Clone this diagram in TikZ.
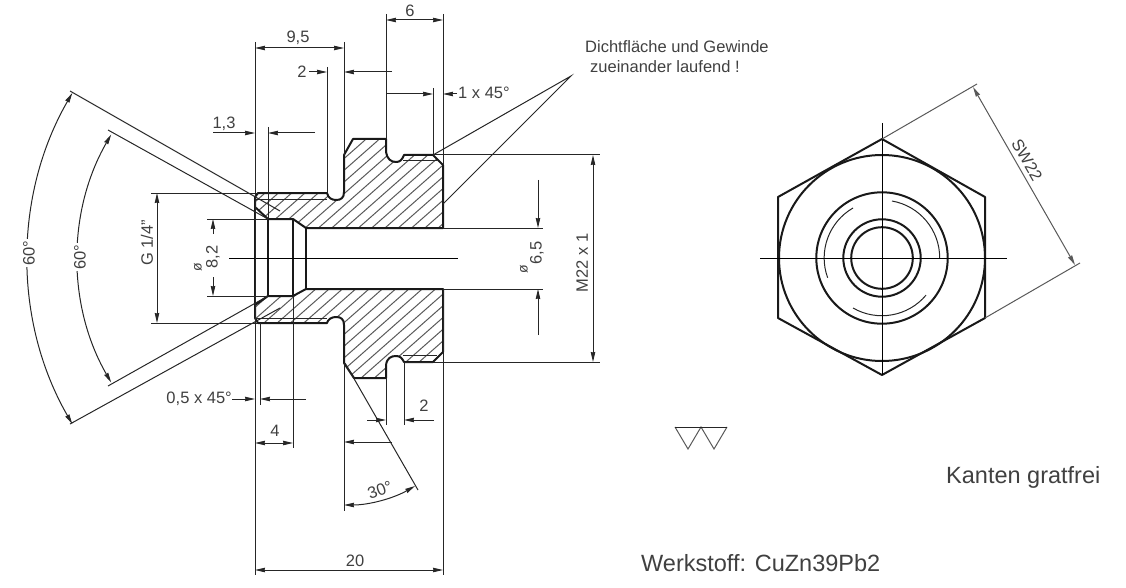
\documentclass[tikz,border=0pt]{standalone}
\usepackage{fontspec}
\setmainfont{Liberation Sans}
\usetikzlibrary{arrows.meta}
\definecolor{inkgray}{gray}{0.25}
\tikzstyle{outline} = [line width=2pt, line join=round, black!90]
\tikzstyle{hatch} = [line width=1pt, black!65]
\tikzstyle{ext} = [line width=1pt, black!85]
\tikzstyle{center} = [line width=1pt, black]
\tikzstyle{arrow} = [line width=1pt, black!85, ->, >={Stealth[length=10pt,width=4.5pt,inset=0.5pt]}]
\tikzstyle{both} = [arrow, <->]
\tikzstyle{label} = [inner sep=0pt, text=inkgray, font=\fontsize{16.5}{20}\selectfont]
\tikzstyle{dia} = [inner sep=0pt, text=inkgray, font=\fontsize{14}{16}\selectfont]
\tikzstyle{big} = [inner sep=0pt, text=inkgray, font=\fontsize{23.5}{28}\selectfont]
\newcommand{\upperpart}{(255,197) -- (258,193) -- (327,193) .. controls (328,198) and (332,200) .. (336,200) .. controls (341,200) and (344,198) .. (344,192) -- (344,155) -- (353,139) -- (386,139) -- (386,152) .. controls (387,159) and (391,162) .. (396,162) .. controls (400,162) and (402,160) .. (404,155) -- (433,155) -- (443,165) -- (443,228) -- (306,228) -- (293,219) -- (268,219) -- (255,207) -- cycle }
\newcommand{\lowerpart}{(255,318) -- (258,323) -- (327,323) .. controls (328,319) and (332,317) .. (336,317) .. controls (341,317) and (344,319) .. (344,325) -- (344,363) -- (354,378) -- (386,378) -- (386,365) .. controls (387,358) and (391,356) .. (396,356) .. controls (400,356) and (402,358) .. (404,362) -- (433,362) -- (443,352) -- (443,289) -- (306,289) -- (293,296) -- (268,296) -- (255,305) -- cycle }
\begin{document}
\begin{tikzpicture}[x=1pt, y=-1pt]
\useasboundingbox (0,0) rectangle (1126,588);
% section
\begin{scope}
\clip \upperpart \lowerpart;
\foreach \k in {-7,...,22}
  \draw [hatch] (\k*13.3+135,378) -- (\k*13.3+405,140);
\end{scope}
\draw [outline] \upperpart;
\draw [outline] \lowerpart;
\draw [outline] (255,207) -- (255,305);
\draw [outline] (268,219) -- (268,296);
\draw [outline] (293,219) -- (293,296);
\draw [outline] (306,228) -- (306,289);
\draw [ext] (255,199) -- (327,199);
\draw [ext] (255,318) -- (327,318);
\draw [ext] (403,161) -- (437,161);
\draw [ext] (403,355) -- (437,355);
\draw [center] (229,258.5) -- (458,258.5);
% extension lines
\draw [ext] (255,42) -- (255,575);
\draw [ext] (344,42) -- (344,155);
\draw [ext] (344,363) -- (344,511);
\draw [ext] (386,14) -- (386,139);
\draw [ext] (443,14) -- (443,165);
\draw [ext] (443,289) -- (443,575);
\draw [ext] (327,67) -- (327,193);
\draw [ext] (433,88) -- (433,155);
\draw [ext] (268,127) -- (268,219);
\draw [ext] (260,323) -- (260,405);
\draw [ext] (293,296) -- (293,448);
\draw [ext] (386,378) -- (386,425);
\draw [ext] (404,362) -- (404,425);
\draw [ext] (151,193) -- (258,193);
\draw [ext] (151,323) -- (258,323);
\draw [ext] (207,219) -- (268,219);
\draw [ext] (207,296) -- (268,296);
\draw [ext] (443,228) -- (543,228);
\draw [ext] (443,289) -- (543,289);
\draw [ext] (433,155) -- (600,155);
\draw [ext] (404,362) -- (600,362);
\draw [ext] (433,155) -- (571,76) -- (443,204);
\draw [ext] (70,91) -- (280,211);
\draw [ext] (70,424) -- (280,308);
\draw [ext] (108,130) -- (268,219);
\draw [ext] (108,386) -- (268,296);
\draw [ext] (345,363) -- (418,490);
% dimensions
\draw [both] (386,20) -- (443,20);
\node (six) [label] at (410,11) {6};
\draw [both] (255,48) -- (344,48);
\node (ninefive) [label] at (298,38) {9,5};
\draw [arrow] (309,72) -- (327,72);
\draw [arrow] (392,72) -- (344,72);
\node (twotop) [label] at (302,72) {2};
\draw [arrow] (386,94) -- (433,94);
\draw [arrow] (457,94) -- (443,94);
\node (chamfertop) [label, anchor=west] at (458,93) {1 x 45°};
\draw [arrow] (213,133) -- (255,133);
\draw [arrow] (315,133) -- (268,133);
\node (onethree) [label] at (224,124) {1,3};
\draw [both] (157,193) -- (157,323);
\node (thread) [label, rotate=90] at (147,243) {G 1/4"};
\draw [arrow] (213,234) -- (213,219);
\draw [arrow] (213,277) -- (213,296);
\node (bore) [label, rotate=90] at (213,257) {8,2};
\node (boredia) [dia, rotate=90] at (198,267) {ø};
\draw [arrow] (538,180) -- (538,228);
\draw [arrow] (538,335) -- (538,289);
\node (hole) [label, rotate=90] at (537,253) {6,5};
\node (holedia) [dia, rotate=90] at (524,269) {ø};
\draw [both] (593,155) -- (593,362);
\node (metric) [label, rotate=90] at (582,263) {M22 x 1};
\draw [arrow] (232,399) -- (255,399);
\draw [arrow] (306,399) -- (260,399);
\node (chamferlow) [label, anchor=east] at (232,399) {0,5 x 45°};
\draw [both] (255,443) -- (293,443);
\node (four) [label] at (275,431) {4};
\draw [arrow] (367,420) -- (386,420);
\draw [arrow] (434,420) -- (404,420);
\node (twolow) [label] at (424,406) {2};
\draw [arrow] (392,442) -- (344,442);
\draw [both] (255,570) -- (443,570);
\node (twenty) [label] at (355,561) {20};
% angles
\draw [both] (344,505) arc (90:60:142);
\node (thirty) [label, rotate=20] at (380,490) {30°};
\draw [both] (72.3,93) arc (210:150:331);
\node (outerangle) [label, rotate=90, fill=white, inner sep=2pt] at (29,253) {60°};
\draw [both] (111.2,134.5) arc (210:150:248);
\node (innerangle) [label, rotate=90, fill=white, inner sep=2pt] at (80,257) {60°};
% right view
\draw [outline] (882,139) -- (985,197) -- (985,318) -- (882,375) -- (778,318) -- (778,197) -- cycle;
\draw [outline] (882,258) circle (103);
\draw [outline] (882,258) circle (65.7);
\draw [outline] (882,258) circle (38.7);
\draw [outline] (882,258) circle (30.8);
\draw [ext] (892,201) arc (-80:0:57.7);
\draw [ext] (853,208) arc (-120:-200:57.7);
\draw [ext] (853,308) arc (120:40:57.7);
\draw [center] (760,258) -- (1007,258);
\draw [center] (882,123) -- (882,375);
\draw [ext, black!65] (882,139) -- (977,84);
\draw [ext, black!65] (985,318) -- (1080,263);
\draw [both, black!65] (973,87) -- (1075,265);
\node (wrench) [label, rotate=-60] at (1027,160) {SW22};
% notes
\node (note) [label, anchor=west] at (585,47) {Dichtfläche und Gewinde};
\node (note2) [label, anchor=west] at (590,67) {zueinander laufend !};
\draw [ext, black!65] (675,427) -- (688,449) -- (701,427) -- (714,449) -- (727,427);
\draw [ext] (675,427) -- (727,427);
\node (burrs) [big, anchor=west] at (946,477) {Kanten gratfrei};
\node (material) [big, anchor=west] at (641,563) {Werkstoff: CuZn39Pb2};
\end{tikzpicture}
\end{document}
